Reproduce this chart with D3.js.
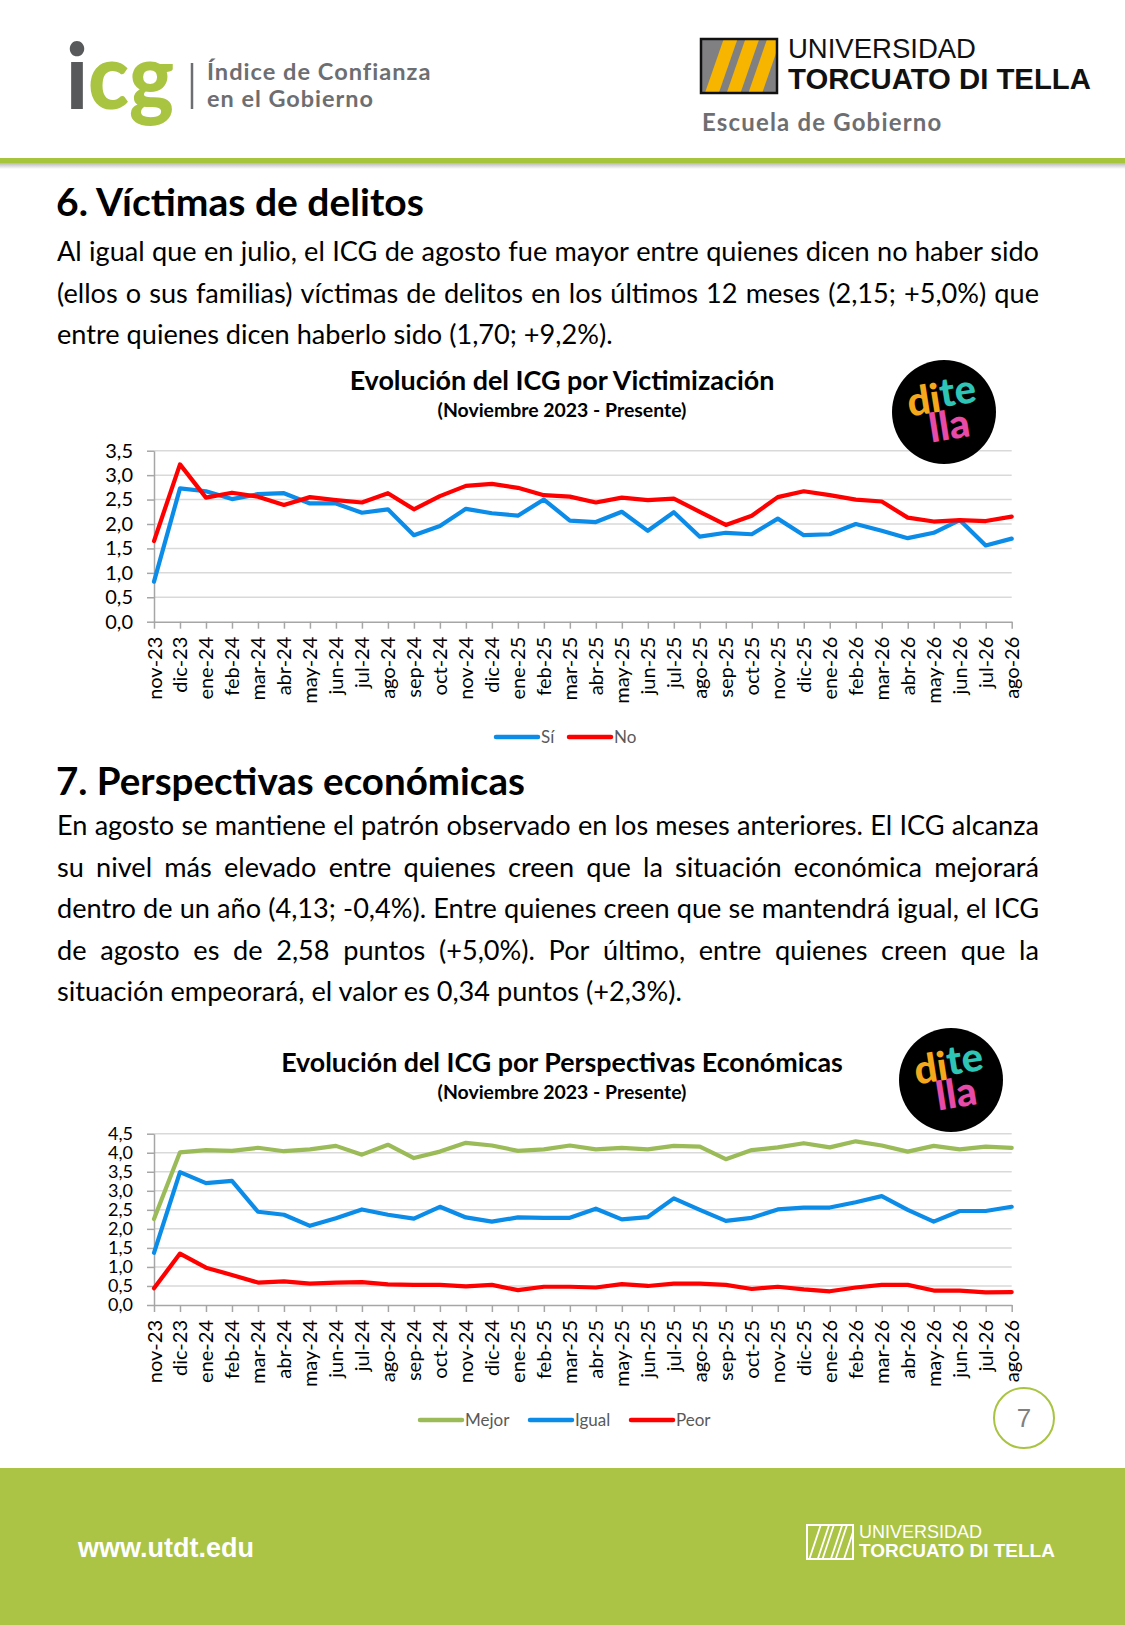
<!DOCTYPE html>
<html lang="es">
<head>
<meta charset="UTF-8">
<title>ICG - Victimización y Perspectivas Económicas</title>
<style>
  body { margin: 0; background: #fff; }
  svg { display: block; }
  .axis text { font-family: Lato, sans-serif; fill: #000; }
  .axis path, .axis line { stroke: #a6a6a6; stroke-width: 1.5; }
  .grid line { stroke: #d9d9d9; stroke-width: 1.5; }
</style>
</head>
<body>
<svg id="page" width="1125" height="1625"></svg>

<script src="https://d3js.org/d3.v7.min.js"></script>
<script>
// --- datos ---
const months = ["nov-23","dic-23","ene-24","feb-24","mar-24","abr-24","may-24","jun-24","jul-24","ago-24",
  "sep-24","oct-24","nov-24","dic-24","ene-25","feb-25","mar-25","abr-25","may-25","jun-25","jul-25","ago-25",
  "sep-25","oct-25","nov-25","dic-25","ene-26","feb-26","mar-26","abr-26","may-26","jun-26","jul-26","ago-26"];

// Victimización
const si = [0.82,2.73,2.67,2.51,2.61,2.63,2.42,2.42,2.23,2.30,1.77,1.96,2.31,2.22,2.17,2.50,2.07,2.04,
  2.25,1.86,2.24,1.74,1.82,1.79,2.11,1.77,1.79,2.00,1.86,1.71,1.82,2.08,1.56,1.70];
const no = [1.65,3.22,2.54,2.64,2.56,2.39,2.55,2.49,2.44,2.63,2.30,2.57,2.78,2.82,2.74,2.59,2.56,2.44,
  2.54,2.49,2.52,2.25,1.98,2.17,2.55,2.67,2.59,2.50,2.46,2.13,2.05,2.08,2.06,2.15];

// Perspectivas económicas
const mejor = [2.26,4.01,4.07,4.05,4.13,4.04,4.09,4.18,3.95,4.21,3.86,4.03,4.26,4.19,4.05,4.09,4.19,4.09,
  4.13,4.09,4.18,4.16,3.83,4.07,4.14,4.25,4.14,4.30,4.19,4.03,4.18,4.09,4.16,4.13];
const igual = [1.37,3.49,3.20,3.26,2.45,2.37,2.08,2.28,2.51,2.37,2.27,2.58,2.30,2.19,2.30,2.29,2.29,2.53,
  2.25,2.31,2.80,2.50,2.21,2.29,2.51,2.56,2.56,2.70,2.86,2.50,2.19,2.47,2.47,2.58];
const peor = [0.44,1.35,0.98,0.79,0.59,0.62,0.56,0.59,0.60,0.54,0.53,0.53,0.49,0.53,0.39,0.48,0.48,0.46,
  0.55,0.50,0.56,0.56,0.53,0.42,0.48,0.41,0.36,0.46,0.53,0.53,0.38,0.38,0.33,0.34];

const ticks1 = [0, 0.5, 1, 1.5, 2, 2.5, 3, 3.5];
const ticks2 = [0, 0.5, 1, 1.5, 2, 2.5, 3, 3.5, 4, 4.5];

const para1 = [
  "Al igual que en julio, el ICG de agosto fue mayor entre quienes dicen no haber sido",
  "(ellos o sus familias) víctimas de delitos en los últimos 12 meses (2,15; +5,0%) que",
  "entre quienes dicen haberlo sido (1,70; +9,2%)."
];
const para2 = [
  "En agosto se mantiene el patrón observado en los meses anteriores. El ICG alcanza",
  "su nivel más elevado entre quienes creen que la situación económica mejorará",
  "dentro de un año (4,13; -0,4%). Entre quienes creen que se mantendrá igual, el ICG",
  "de agosto es de 2,58 puntos (+5,0%). Por último, entre quienes creen que la",
  "situación empeorará, el valor es 0,34 puntos (+2,3%)."
];

const BLUE = "#0c8ce9", RED = "#ff0000", GREEN = "#9bbb59";
const LIME = "#a8c440", GRAYTXT = "#6d6e71";
const fmt = v => d3.format(".1f")(v).replace(".", ",");

const svg = d3.select("#page");

// ajusta el tamaño de letra para que el texto ocupe un ancho dado
function fit(sel, width) {
  const w = sel.node().getComputedTextLength();
  const fs = parseFloat(sel.attr("font-size"));
  sel.attr("font-size", fs * width / w);
  return sel;
}

// párrafo justificado: palabras con huecos iguales, última línea natural
function paragraph(lines, x0, width, y0, lh, fs) {
  const g = svg.append("g").attr("font-family", "Lato, sans-serif").attr("font-size", fs).attr("fill", "#000");
  lines.forEach((line, i) => {
    const y = y0 + i * lh;
    if (i === lines.length - 1) {
      g.append("text").attr("x", x0).attr("y", y).text(line);
      return;
    }
    const words = line.split(" ");
    const nodes = words.map(w => g.append("text").attr("y", y).text(w));
    const widths = nodes.map(n => n.node().getComputedTextLength());
    const gap = (width - d3.sum(widths)) / (words.length - 1);
    let x = x0;
    nodes.forEach((n, j) => { n.attr("x", x); x += widths[j] + gap; });
  });
}

// --- cabecera ---
const hdr = svg.append("g");
const icg = hdr.append("text").attr("x", 66).attr("y", 109)
  .attr("font-family", "Lato, sans-serif").attr("font-weight", 900).attr("font-size", 92);
icg.append("tspan").attr("fill", "#58595b").text("i");
icg.append("tspan").attr("fill", LIME).text("cg");
icg.attr("textLength", 108).attr("lengthAdjust", "spacingAndGlyphs");
hdr.append("line").attr("x1", 192).attr("x2", 192).attr("y1", 63).attr("y2", 109)
  .attr("stroke", "#6d6e71").attr("stroke-width", 2.5);
fit(hdr.append("text").attr("x", 207).attr("y", 80).attr("font-family", "Lato, sans-serif")
  .attr("font-weight", 700).attr("font-size", 22).attr("fill", GRAYTXT).attr("letter-spacing", 1)
  .text("Índice de Confianza"), 226);
fit(hdr.append("text").attr("x", 207).attr("y", 107).attr("font-family", "Lato, sans-serif")
  .attr("font-weight", 700).attr("font-size", 22).attr("fill", GRAYTXT).attr("letter-spacing", 1)
  .text("en el Gobierno"), 168);

// logo UTDT
function utdtMark(g, x0, y0, w, h, filled, color) {
  const id = "clip" + Math.round(x0) + Math.round(y0);
  g.append("clipPath").attr("id", id).append("rect").attr("x", x0).attr("y", y0).attr("width", w).attr("height", h);
  if (filled) g.append("rect").attr("x", x0).attr("y", y0).attr("width", w).attr("height", h).attr("fill", "#808083");
  const s = w / 77;
  for (let i = 0; i < 3; i++) {
    const pts = [[x0 + (4 + i * 22) * s, y0 + h], [x0 + (18 + i * 22) * s, y0 + h],
                 [x0 + (37 + i * 22) * s, y0], [x0 + (23 + i * 22) * s, y0]];
    g.append("polygon").attr("points", pts.map(p => p.join(",")).join(" "))
      .attr("clip-path", `url(#${id})`)
      .attr("fill", filled ? "#f7b500" : "none")
      .attr("stroke", filled ? "none" : color).attr("stroke-width", 1.8);
  }
  g.append("rect").attr("x", x0).attr("y", y0).attr("width", w).attr("height", h)
    .attr("fill", "none").attr("stroke", filled ? "#111" : color).attr("stroke-width", filled ? 2.5 : 2);
}
utdtMark(hdr, 701, 39, 76, 54, true);
fit(hdr.append("text").attr("x", 788).attr("y", 58).attr("font-family", "Liberation Sans, Arial, sans-serif")
  .attr("font-size", 24).attr("fill", "#111").text("UNIVERSIDAD"), 188);
fit(hdr.append("text").attr("x", 788).attr("y", 89).attr("font-family", "Liberation Sans, Arial, sans-serif")
  .attr("font-weight", 700).attr("font-size", 26).attr("fill", "#111").text("TORCUATO DI TELLA"), 303);
fit(hdr.append("text").attr("x", 702).attr("y", 131).attr("font-family", "Lato, sans-serif")
  .attr("font-weight", 700).attr("font-size", 20).attr("fill", GRAYTXT).attr("letter-spacing", 1.2)
  .text("Escuela de Gobierno"), 245);

// línea verde con sombra
const shadow = svg.append("defs").append("linearGradient").attr("id", "shadow")
  .attr("x1", 0).attr("x2", 0).attr("y1", 0).attr("y2", 1);
shadow.append("stop").attr("offset", 0).attr("stop-color", "#b8b8b8");
shadow.append("stop").attr("offset", 1).attr("stop-color", "#ffffff");
svg.append("rect").attr("x", 0).attr("y", 163).attr("width", 1125).attr("height", 6).attr("fill", "url(#shadow)");
svg.append("rect").attr("x", 0).attr("y", 158).attr("width", 1125).attr("height", 5).attr("fill", "#a6c43c");

// --- textos de sección ---
function sectionTitle(txt, y, width) {
  fit(svg.append("text").attr("x", 56).attr("y", y).attr("font-family", "Lato, sans-serif")
    .attr("font-weight", 700).attr("font-size", 36).attr("fill", "#000").text(txt), width);
}
sectionTitle("6. Víctimas de delitos", 216, 368);
sectionTitle("7. Perspectivas económicas", 795, 469);

// tamaño de letra del cuerpo a partir de la última línea del primer párrafo
const probe = svg.append("text").attr("font-family", "Lato, sans-serif").attr("font-size", 100).text(para1[2]);
const bodyFs = 100 * 556 / probe.node().getComputedTextLength();
probe.remove();
paragraph(para1, 57, 982, 261, 41.5, bodyFs);
paragraph(para2, 57, 982, 835, 41.5, bodyFs);

// --- gráficos ---
const x = d3.scalePoint().domain(months).range([154, 1011.7]);

function chart(cfg) {
  const g = svg.append("g");
  const y = d3.scaleLinear().domain([0, d3.max(cfg.ticks)]).range([cfg.bottom, cfg.top]);

  // título
  fit(g.append("text").attr("x", 562).attr("y", cfg.titleY).attr("text-anchor", "middle")
    .attr("font-family", "Lato, sans-serif").attr("font-weight", 700).attr("font-size", 24)
    .text(cfg.title), cfg.titleW);
  fit(g.append("text").attr("x", 562).attr("y", cfg.titleY + 27).attr("text-anchor", "middle")
    .attr("font-family", "Lato, sans-serif").attr("font-weight", 700).attr("font-size", 18)
    .text("(Noviembre 2023 - Presente)"), 249);

  // cuadrícula
  g.append("g").attr("class", "grid").selectAll("line").data(cfg.ticks.slice(1)).join("line")
    .attr("x1", x.range()[0]).attr("x2", x.range()[1])
    .attr("y1", d => y(d)).attr("y2", d => y(d));

  // ejes
  g.append("g").attr("class", "axis").attr("transform", `translate(${x.range()[0]},0)`)
    .call(d3.axisLeft(y).tickValues(cfg.ticks).tickFormat(fmt).tickSize(7).tickSizeOuter(0).tickPadding(14))
    .selectAll("text").attr("font-size", cfg.yFont);
  const xa = g.append("g").attr("class", "axis").attr("transform", `translate(0,${cfg.bottom})`)
    .call(d3.axisBottom(x).tickSize(7).tickSizeOuter(0));
  xa.selectAll("text").attr("font-size", 20).attr("transform", "rotate(-90)")
    .attr("x", -15).attr("y", 0).attr("dy", "0.35em").style("text-anchor", "end");

  // líneas
  const line = d3.line().x((d, i) => x(months[i])).y(d => y(d));
  cfg.series.forEach(s => {
    g.append("path").datum(s.values).attr("d", line).attr("fill", "none")
      .attr("stroke", s.color).attr("stroke-width", 4.2)
      .attr("stroke-linejoin", "round").attr("stroke-linecap", "round");
  });

  // leyenda
  const lg = g.append("g").attr("font-family", "Lato, sans-serif").attr("font-size", 17).attr("fill", "#595959");
  cfg.series.forEach((s, i) => {
    const lx = cfg.legendX[i];
    lg.append("line").attr("x1", lx).attr("x2", lx + 42).attr("y1", cfg.legendY).attr("y2", cfg.legendY)
      .attr("stroke", s.color).attr("stroke-width", 4.5).attr("stroke-linecap", "round");
    lg.append("text").attr("x", lx + 45).attr("y", cfg.legendY).attr("dy", "0.35em").text(s.name);
  });

  // logo ditella
  const d = g.append("g").attr("transform", `translate(${cfg.logo[0]},${cfg.logo[1]})`);
  d.append("circle").attr("r", 52).attr("fill", "#000");
  const dt = d.append("g").attr("transform", "rotate(-9)").attr("font-family", "Lato, sans-serif")
    .attr("font-weight", 900).attr("font-size", 40);
  const t1 = dt.append("text").attr("x", 0).attr("y", -1).attr("text-anchor", "middle");
  t1.append("tspan").attr("fill", "#f5a81c").text("di");
  t1.append("tspan").attr("fill", "#2ec4b6").attr("dy", -4).text("te");
  dt.append("text").attr("x", 3).attr("y", 28).attr("text-anchor", "middle").attr("fill", "#e84aa8").text("lla");
}

chart({
  title: "Evolución del ICG por Victimización", titleY: 390, titleW: 425,
  ticks: ticks1, top: 450.7, bottom: 621.7, yFont: 20,
  series: [{ name: "Sí", values: si, color: BLUE }, { name: "No", values: no, color: RED }],
  legendX: [496, 569], legendY: 737, logo: [944, 412]
});
chart({
  title: "Evolución del ICG por Perspectivas Económicas", titleY: 1072, titleW: 562,
  ticks: ticks2, top: 1133.7, bottom: 1305, yFont: 18,
  series: [{ name: "Mejor", values: mejor, color: GREEN }, { name: "Igual", values: igual, color: BLUE },
           { name: "Peor", values: peor, color: RED }],
  legendX: [420, 530, 631], legendY: 1420, logo: [951, 1080]
});

// número de página
svg.append("circle").attr("cx", 1024).attr("cy", 1418).attr("r", 30)
  .attr("fill", "#fff").attr("stroke", LIME).attr("stroke-width", 2);
svg.append("text").attr("x", 1024).attr("y", 1418).attr("dy", "0.36em").attr("text-anchor", "middle")
  .attr("font-family", "Liberation Sans, Arial, sans-serif").attr("font-size", 26).attr("fill", "#808080").text("7");

// --- pie ---
svg.append("rect").attr("x", 0).attr("y", 1468).attr("width", 1125).attr("height", 157).attr("fill", "#abc446");
fit(svg.append("text").attr("x", 78).attr("y", 1557).attr("font-family", "Liberation Sans, Arial, sans-serif")
  .attr("font-weight", 700).attr("font-size", 26).attr("fill", "#fff").text("www.utdt.edu"), 176);
const ft = svg.append("g");
utdtMark(ft, 807, 1525, 46, 34, false, "#fff");
fit(ft.append("text").attr("x", 859).attr("y", 1538).attr("font-family", "Liberation Sans, Arial, sans-serif")
  .attr("font-size", 17).attr("fill", "#fff").text("UNIVERSIDAD"), 123);
fit(ft.append("text").attr("x", 859).attr("y", 1557).attr("font-family", "Liberation Sans, Arial, sans-serif")
  .attr("font-weight", 700).attr("font-size", 18).attr("fill", "#fff").text("TORCUATO DI TELLA"), 196);
</script>
</body>
</html>
